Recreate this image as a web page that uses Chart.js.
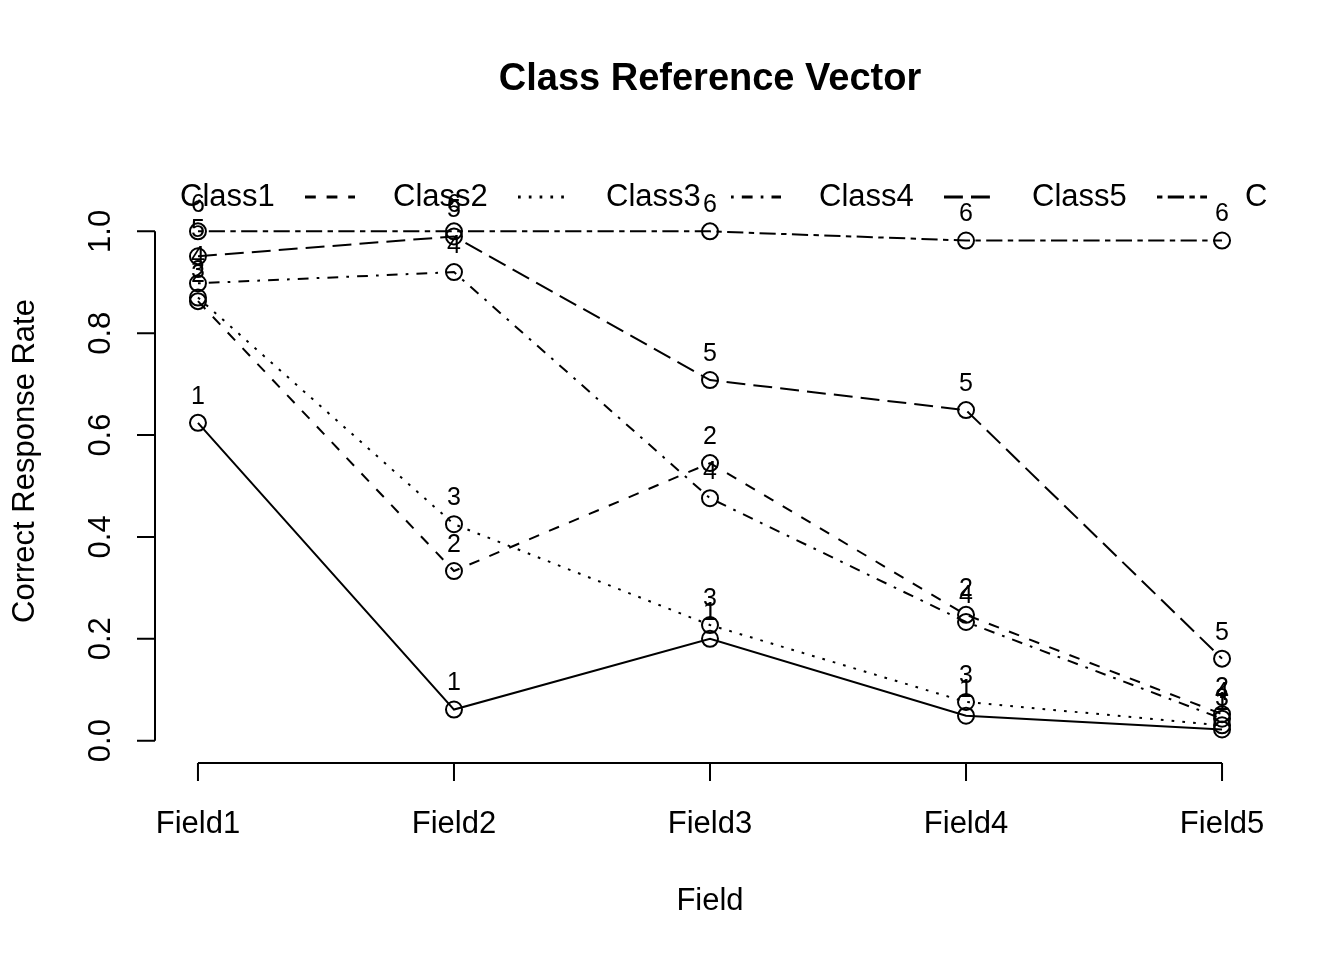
<!DOCTYPE html>
<html>
<head>
<meta charset="utf-8">
<script src="https://cdn.jsdelivr.net/npm/chart.js@4.4.1/dist/chart.umd.min.js"></script>
<style>
html,body{margin:0;padding:0;background:#fff;}
#wrap{width:1344px;height:960px;position:relative;}
</style>
</head>
<body>
<div id="wrap"><canvas id="c" width="1344" height="960"></canvas></div>
<script>
const fields = ['Field1', 'Field2', 'Field3', 'Field4', 'Field5'];
const classNames = ['Class1', 'Class2', 'Class3', 'Class4', 'Class5', 'Class6'];
const class1 = [0.624, 0.061, 0.200, 0.049, 0.022];
const class2 = [0.863, 0.333, 0.545, 0.247, 0.052];
const class3 = [0.870, 0.425, 0.227, 0.076, 0.030];
const class4 = [0.898, 0.920, 0.476, 0.233, 0.043];
const class5 = [0.951, 0.990, 0.708, 0.649, 0.161];
const class6 = [1.000, 1.000, 1.000, 0.982, 0.982];
const yTicks = [0.0, 0.2, 0.4, 0.6, 0.8, 1.0];
const legendLabels = ['Class1', 'Class2', 'Class3', 'Class4', 'Class5', 'C'];

const series = [class1, class2, class3, class4, class5, class6];
const U = 2.7;
const dashes = [[], [4*U, 4*U], [1*U, 3*U], [1*U, 3*U, 4*U, 3*U], [7*U, 3*U], [2*U, 2*U, 6*U, 2*U]];
const FONT = '"Liberation Sans", Arial, Helvetica, sans-serif';

const datasets = series.map((vals, k) => ({
  label: classNames[k],
  data: vals.map((v, i) => ({x: i + 1, y: v})),
  showLine: true,
  borderColor: '#000',
  borderWidth: 2,
  borderDash: dashes[k],
  pointStyle: 'circle',
  pointRadius: 8,
  pointBorderWidth: 2,
  pointBorderColor: '#000',
  pointBackgroundColor: 'rgba(0,0,0,0)',
  pointHoverRadius: 8,
  fill: false,
  tension: 0
}));

const rPlot = {
  id: 'rPlot',
  afterDatasetsDraw(chart) {
    const ctx = chart.ctx;
    const xs = chart.scales.x, ys = chart.scales.y;
    ctx.save();
    // point labels
    ctx.fillStyle = '#000';
    ctx.font = '25px ' + FONT;
    ctx.textAlign = 'center';
    ctx.textBaseline = 'middle';
    chart.data.datasets.forEach((ds, k) => {
      const meta = chart.getDatasetMeta(k);
      meta.data.forEach(pt => {
        ctx.fillText(String(k + 1), pt.x, pt.y - 26);
      });
    });
    // axes
    ctx.strokeStyle = '#000';
    ctx.lineWidth = 2;
    ctx.setLineDash([]);
    const xl = chart.chartArea.left - 2;
    const yb = chart.chartArea.bottom + 2;
    ctx.beginPath();
    ctx.moveTo(xl, ys.getPixelForValue(yTicks[0]));
    ctx.lineTo(xl, ys.getPixelForValue(yTicks[yTicks.length - 1]));
    yTicks.forEach(t => {
      const p = ys.getPixelForValue(t);
      ctx.moveTo(xl, p);
      ctx.lineTo(xl - 18, p);
    });
    ctx.moveTo(xs.getPixelForValue(1), yb);
    ctx.lineTo(xs.getPixelForValue(fields.length), yb);
    fields.forEach((f, i) => {
      const p = xs.getPixelForValue(i + 1);
      ctx.moveTo(p, yb);
      ctx.lineTo(p, yb + 18);
    });
    ctx.stroke();
    ctx.font = '31px ' + FONT;
    ctx.textAlign = 'center';
    ctx.textBaseline = 'middle';
    fields.forEach((f, i) => {
      ctx.fillText(f, xs.getPixelForValue(i + 1), 824);
    });
    yTicks.forEach(t => {
      ctx.save();
      ctx.translate(101, ys.getPixelForValue(t));
      ctx.rotate(-Math.PI / 2);
      ctx.fillText(t.toFixed(1), 0, 0);
      ctx.restore();
    });
    ctx.fillText('Field', 710, 901);
    ctx.save();
    ctx.translate(25, 461);
    ctx.rotate(-Math.PI / 2);
    ctx.fillText('Correct Response Rate', 0, 0);
    ctx.restore();
    ctx.font = 'bold 38px ' + FONT;
    ctx.fillText('Class Reference Vector', 710, 80);
    // legend
    ctx.font = '31px ' + FONT;
    ctx.textAlign = 'left';
    const legX0 = 180, legStep = 213, legY = 197;
    legendLabels.forEach((lab, i) => {
      const tx = legX0 + i * legStep;
      ctx.fillText(lab, tx, legY);
      if (i + 1 < series.length) {
        const nx = legX0 + (i + 1) * legStep;
        ctx.save();
        ctx.lineWidth = 3;
        ctx.setLineDash(dashes[i + 1]);
        ctx.beginPath();
        ctx.moveTo(nx - 88, legY);
        ctx.lineTo(nx - 38, legY);
        ctx.stroke();
        ctx.restore();
      }
    });
    ctx.restore();
  }
};

new Chart(document.getElementById('c'), {
  type: 'scatter',
  data: {datasets},
  options: {
    responsive: false,
    animation: false,
    devicePixelRatio: 1,
    layout: {padding: {left: 157, right: 81, top: 211, bottom: 199}},
    plugins: {legend: {display: false}, tooltip: {enabled: false}, title: {display: false}},
    scales: {
      x: {type: 'linear', min: 0.84, max: 5.16, display: false},
      y: {type: 'linear', min: -0.04, max: 1.04, display: false}
    }
  },
  plugins: [rPlot]
});
</script>
</body>
</html>
